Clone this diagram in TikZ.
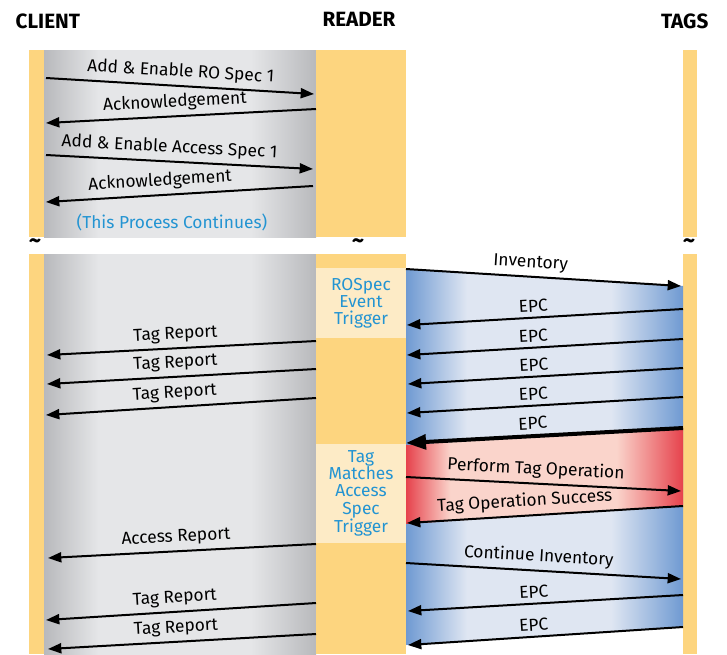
\documentclass[tikz,border=0pt]{standalone}
\usepackage{fontspec}
\setmainfont{Fira Sans}
\usetikzlibrary{arrows.meta}

\definecolor{barYellow}{HTML}{FDD57F}
\definecolor{trigCream}{HTML}{FDEBC6}
\definecolor{grayDark}{HTML}{B8B9BC}
\definecolor{grayLight}{HTML}{E5E6E8}
\definecolor{blueDark}{HTML}{6F9AD2}
\definecolor{blueLight}{HTML}{DFE6F2}
\definecolor{redDark}{HTML}{E6424C}
\definecolor{redLight}{HTML}{FAD4CB}
\definecolor{noteBlue}{HTML}{2394D2}

% shadings: the path box is mapped to 25bp..75bp
\pgfdeclarehorizontalshading{clientshade}{100bp}{color(0bp)=(grayDark); color(25bp)=(grayDark); color(35bp)=(grayLight); color(63bp)=(grayLight); color(75bp)=(grayDark); color(100bp)=(grayDark)}
\pgfdeclarehorizontalshading{blueshade}{100bp}{color(0bp)=(blueDark); color(25bp)=(blueDark); color(36bp)=(blueLight); color(62bp)=(blueLight); color(75bp)=(blueDark); color(100bp)=(blueDark)}
\pgfdeclarehorizontalshading{redshade}{100bp}{color(0bp)=(redDark); color(25bp)=(redDark); color(33bp)=(redLight); color(63bp)=(redLight); color(75bp)=(redDark); color(100bp)=(redDark)}

\begin{document}
\begin{tikzpicture}[x=0.75pt,y=-0.75pt,
        msg/.style={line width=1.5pt,-{Triangle[length=10pt,width=7.5pt]}},
        bigmsg/.style={line width=3pt,-{Triangle[length=15pt,width=11pt]}},
        msgl/.style={sloped,above=1.5pt,inner sep=2pt,font=\fontsize{13}{14}\selectfont},
        head/.style={font=\fontsize{15.5}{17}\selectfont\bfseries},
        brk/.style={font=\fontsize{18}{18}\selectfont\bfseries,inner sep=0pt},
        trig/.style={fill=trigCream,text=noteBlue,align=center,inner sep=0pt,
            minimum width=67.5pt,font=\fontsize{13}{12.9}\selectfont}]

            % Define the columns and the rows of the lifelines
            \def\clL{29}   % client bar left
            \def\clR{44}   % client bar right
            \def\rdL{316}  % reader bar left
            \def\rdR{406}  % reader bar right
            \def\tgL{683}  % tags bar left
            \def\tgR{697}  % tags bar right
            \def\upT{50}   % upper part top
            \def\upB{237}  % upper part bottom
            \def\loT{254}  % lower part top
            \def\loB{654}  % lower part bottom

            \useasboundingbox (0,0) rectangle (727,654);

            % Message end points, upper part
            \coordinate (M1a) at (46,78);   \coordinate (M1b) at (314,94);
            \coordinate (M2a) at (316,109); \coordinate (M2b) at (46,123);
            \coordinate (M3a) at (46,155);  \coordinate (M3b) at (313,169);
            \coordinate (M4a) at (313,186); \coordinate (M4b) at (46,202);

            % Message end points, reader and tags
            \coordinate (I1a) at (406,269); \coordinate (I1b) at (681,286);
            \coordinate (E1a) at (683,309); \coordinate (E1b) at (407,325);
            \coordinate (E2a) at (683,339); \coordinate (E2b) at (407,355);
            \coordinate (E3a) at (683,368); \coordinate (E3b) at (408,384);
            \coordinate (E4a) at (683,397); \coordinate (E4b) at (407,413);
            \coordinate (E5a) at (683,428); \coordinate (E5b) at (406,443);
            \coordinate (P1a) at (406,477); \coordinate (P1b) at (681,491);
            \coordinate (S1a) at (683,506); \coordinate (S1b) at (407,523);
            \coordinate (C1a) at (406,563); \coordinate (C1b) at (681,579);
            \coordinate (E6a) at (683,595); \coordinate (E6b) at (408,611);
            \coordinate (E7a) at (683,627); \coordinate (E7b) at (408,645);

            % Message end points, reader and client
            \coordinate (R1a) at (316,341); \coordinate (R1b) at (47,355);
            \coordinate (R2a) at (316,369); \coordinate (R2b) at (47,384);
            \coordinate (R3a) at (316,398); \coordinate (R3b) at (46,415);
            \coordinate (A1a) at (316,544); \coordinate (A1b) at (48,558);
            \coordinate (R4a) at (316,603); \coordinate (R4b) at (46,620);
            \coordinate (R5a) at (316,634); \coordinate (R5b) at (48,649);

            % Draw the headers
            \node[head,anchor=west] (client) at (11,21) {CLIENT};
            \node[head] (reader) at (359,19) {READER};
            \node[head,anchor=east] (tags) at (713,21) {TAGS};

            % Draw the upper lifelines
            \fill[barYellow] (\clL,\upT) rectangle (\clR,\upB);
            \shade[shading=clientshade] (\clR,\upT) rectangle (\rdL,\upB);
            \fill[barYellow] (\rdL,\upT) rectangle (\rdR,\upB);
            \fill[barYellow] (\tgL,\upT) rectangle (\tgR,\upB);

            % Draw the lower lifelines
            \fill[barYellow] (\clL,\loT) rectangle (\clR,\loB);
            \shade[shading=clientshade] (\clR,\loT) rectangle (\rdL,\loB);
            \fill[barYellow] (\rdL,\loT) rectangle (\rdR,\loB);
            \fill[barYellow] (\tgL,\loT) rectangle (\tgR,\loB);

            % Draw the break marks
            \node[brk] (brk1) at (35,244) {\textasciitilde};
            \node[brk] (brk2) at (358,244) {\textasciitilde};
            \node[brk] (brk3) at (689,244) {\textasciitilde};

            % Draw the radio traffic bands
            \shade[shading=blueshade] (I1a) -- (\tgL,286) -- (\tgL,627) -- (\rdR,645) -- cycle;
            \shade[shading=redshade] (\rdR,445) -- (\tgL,428) -- (\tgL,506) -- (\rdR,524) -- cycle;

            % Draw the triggers
            \node[trig,minimum height=52.5pt] (rotrig) at (361,303) {ROSpec\\Event\\Trigger};
            \node[trig,minimum height=74.25pt] (actrig) at (361,493.5) {Tag\\Matches\\Access\\Spec\\Trigger};

            % Draw client and reader setup
            \draw[msg] (M1a) -- node[msgl,pos=0.5] (m1) {Add \& Enable RO Spec 1} (M1b);
            \draw[msg] (M2a) -- node[msgl,pos=0.52] (m2) {Acknowledgement} (M2b);
            \draw[msg] (M3a) -- node[msgl,pos=0.46] (m3) {Add \& Enable Access Spec 1} (M3b);
            \draw[msg] (M4a) -- node[msgl,pos=0.57] (m4) {Acknowledgement} (M4b);
            \node[text=noteBlue,font=\fontsize{13}{14}\selectfont] (cont) at (172,222) {(This Process Continues)};

            % Draw reader and tags
            \draw[msg] (I1a) -- node[msgl,pos=0.45,above=0pt] (i1) {Inventory} (I1b);
            \draw[msg] (E1a) -- node[msgl,pos=0.54] (e1) {EPC} (E1b);
            \draw[msg] (E2a) -- node[msgl,pos=0.54] (e2) {EPC} (E2b);
            \draw[msg] (E3a) -- node[msgl,pos=0.54] (e3) {EPC} (E3b);
            \draw[msg] (E4a) -- node[msgl,pos=0.54] (e4) {EPC} (E4b);
            \draw[bigmsg] (E5a) -- node[msgl,pos=0.54] (e5) {EPC} (E5b);
            \draw[msg] (P1a) -- node[msgl,pos=0.47] (p1) {Perform Tag Operation} (P1b);
            \draw[msg] (S1a) -- node[msgl,pos=0.57] (s1) {Tag Operation Success} (S1b);
            \draw[msg] (C1a) -- node[msgl,pos=0.48] (c1) {Continue Inventory} (C1b);
            \draw[msg] (E6a) -- node[msgl,pos=0.54] (e6) {EPC} (E6b);
            \draw[msg] (E7a) -- node[msgl,pos=0.54] (e7) {EPC} (E7b);

            % Draw reports to the client
            \draw[msg] (R1a) -- node[msgl,pos=0.52] (r1) {Tag Report} (R1b);
            \draw[msg] (R2a) -- node[msgl,pos=0.52] (r2) {Tag Report} (R2b);
            \draw[msg] (R3a) -- node[msgl,pos=0.52] (r3) {Tag Report} (R3b);
            \draw[msg] (A1a) -- node[msgl,pos=0.52] (a1) {Access Report} (A1b);
            \draw[msg] (R4a) -- node[msgl,pos=0.52] (r4) {Tag Report} (R4b);
            \draw[msg] (R5a) -- node[msgl,pos=0.52] (r5) {Tag Report} (R5b);

        \end{tikzpicture}
\end{document}
